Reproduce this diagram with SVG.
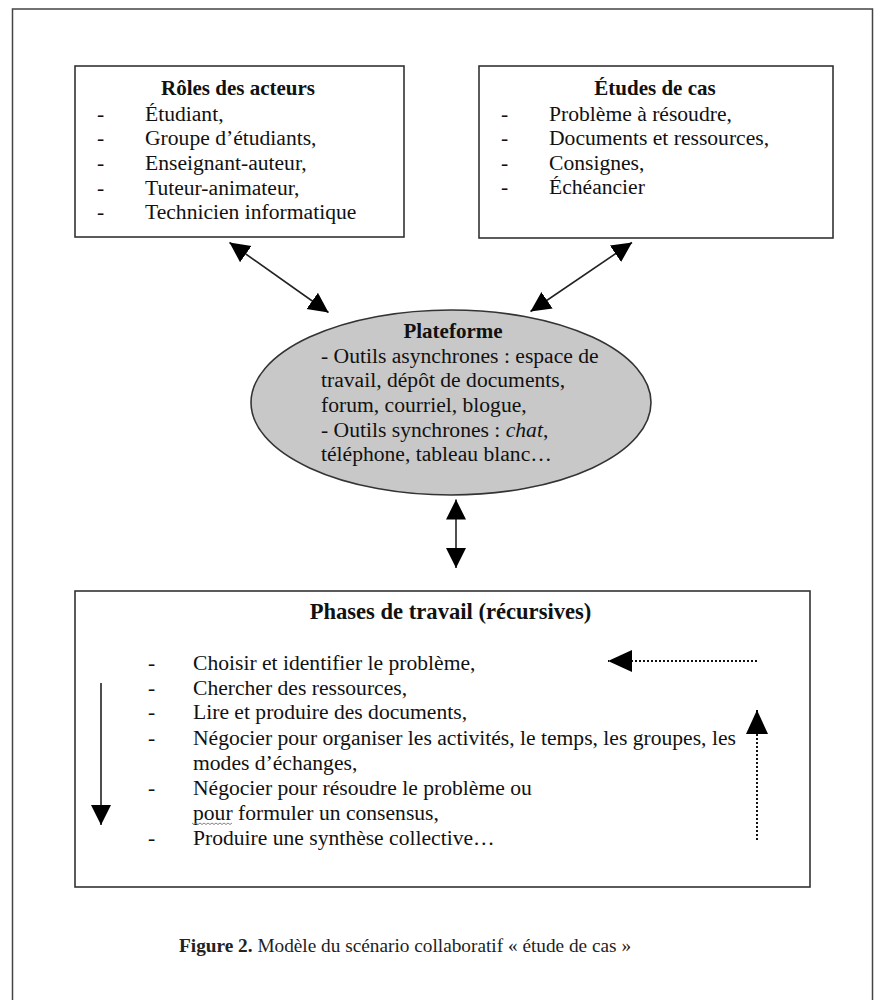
<svg xmlns="http://www.w3.org/2000/svg" width="877" height="1000" viewBox="0 0 877 1000">
<style>
  text { font-family: "Liberation Serif", "Times New Roman", serif; fill: #111; font-size: 21.6px; }
  .b { font-weight: bold; font-size: 21px; }
  .box { fill: #fff; stroke: #333; stroke-width: 1.6; }
  .conn { stroke: #222; stroke-width: 1.6; fill: none; }
  .dot { stroke: #111; stroke-width: 2; stroke-dasharray: 2 2; fill: none; }
  .cap { font-size: 19.3px; fill: #222; }
</style>
<defs>
  <marker id="ah" markerUnits="userSpaceOnUse" markerWidth="21" markerHeight="21" refX="20" refY="10" orient="auto-start-reverse" viewBox="0 0 21 21">
    <path d="M0,0 L20,10 L0,20 z" fill="#000"/>
  </marker>
  <marker id="ahb" markerUnits="userSpaceOnUse" markerWidth="25" markerHeight="23" refX="24" refY="11" orient="auto" viewBox="0 0 25 23">
    <path d="M0,0 L24,11 L0,22 z" fill="#000"/>
  </marker>
</defs>
<rect x="12.5" y="9" width="860" height="1000" fill="#fff" stroke="#444" stroke-width="1.5"/>

<g id="roles">
  <rect class="box" x="75" y="66" width="329" height="171"/>
  <text class="b" x="238" y="95" text-anchor="middle">Rôles des acteurs</text>
  <text x="97" y="121">-</text><text x="145" y="121">Étudiant,</text>
  <text x="97" y="145">-</text><text x="145" y="145">Groupe d’étudiants,</text>
  <text x="97" y="170">-</text><text x="145" y="170">Enseignant-auteur,</text>
  <text x="97" y="195">-</text><text x="145" y="195">Tuteur-animateur,</text>
  <text x="97" y="219">-</text><text x="145" y="219">Technicien informatique</text>
</g>

<g id="etudes">
  <rect class="box" x="479" y="66" width="354" height="172"/>
  <text class="b" x="655" y="95" text-anchor="middle">Études de cas</text>
  <text x="501" y="121">-</text><text x="549" y="121">Problème à résoudre,</text>
  <text x="501" y="145">-</text><text x="549" y="145">Documents et ressources,</text>
  <text x="501" y="170">-</text><text x="549" y="170">Consignes,</text>
  <text x="501" y="194">-</text><text x="549" y="194">Échéancier</text>
</g>

<g id="plateforme">
  <ellipse cx="451" cy="402.5" rx="200" ry="92.5" fill="#c8c8c8" stroke="#333" stroke-width="1.6"/>
  <text class="b" x="453" y="338" text-anchor="middle">Plateforme</text>
  <text x="321" y="363">- Outils asynchrones : espace de</text>
  <text x="321" y="387">travail, dépôt de documents,</text>
  <text x="321" y="412">forum, courriel, blogue,</text>
  <text x="321" y="437">- Outils synchrones : <tspan font-style="italic">chat</tspan>,</text>
  <text x="321" y="461">téléphone, tableau blanc…</text>
</g>

<g id="phases">
  <rect class="box" x="75" y="591" width="735" height="296"/>
  <text class="b" x="450.5" y="619" text-anchor="middle" style="font-size:22.6px">Phases de travail (récursives)</text>
  <text x="148" y="670">-</text><text x="193" y="670">Choisir et identifier le problème,</text>
  <text x="148" y="695">-</text><text x="193" y="695">Chercher des ressources,</text>
  <text x="148" y="719">-</text><text x="193" y="719">Lire et produire des documents,</text>
  <text x="148" y="745">-</text><text x="193" y="745">Négocier pour organiser les activités, le temps, les groupes, les</text>
  <text x="193" y="770">modes d’échanges,</text>
  <text x="148" y="795">-</text><text x="193" y="795">Négocier pour résoudre le problème ou</text>
  <text x="193" y="820">pour formuler un consensus,</text>
  <text x="148" y="845">-</text><text x="193" y="845">Produire une synthèse collective…</text>
  <path d="M192,823 l2,1.5 l2,-1.5 l2,1.5 l2,-1.5 l2,1.5 l2,-1.5 l2,1.5 l2,-1.5 l2,1.5 l2,-1.5 l2,1.5 l2,-1.5 l2,1.5 l2,-1.5 l2,1.5 l2,-1.5 l2,1.5 l2,-1.5 l2,1.5 l2,-1.5" fill="none" stroke="#777" stroke-width="0.9"/>
</g>

<g id="connectors">
  <line class="conn" x1="229.5" y1="242.5" x2="328.5" y2="312.5" marker-start="url(#ah)" marker-end="url(#ah)"/>
  <line class="conn" x1="632" y1="242.5" x2="530.5" y2="311.5" marker-start="url(#ah)" marker-end="url(#ah)"/>
  <line class="conn" x1="456" y1="499.5" x2="456" y2="568" marker-start="url(#ah)" marker-end="url(#ah)"/>
  <line class="conn" x1="101" y1="683" x2="101" y2="825" marker-end="url(#ah)"/>
  <line class="dot" x1="757" y1="661" x2="608" y2="661" marker-end="url(#ahb)"/>
  <line class="dot" x1="757" y1="840" x2="757" y2="710" marker-end="url(#ahb)"/>
</g>

<text class="cap" x="179" y="952"><tspan font-weight="bold">Figure 2.</tspan> Modèle du scénario collaboratif « étude de cas »</text>
</svg>
